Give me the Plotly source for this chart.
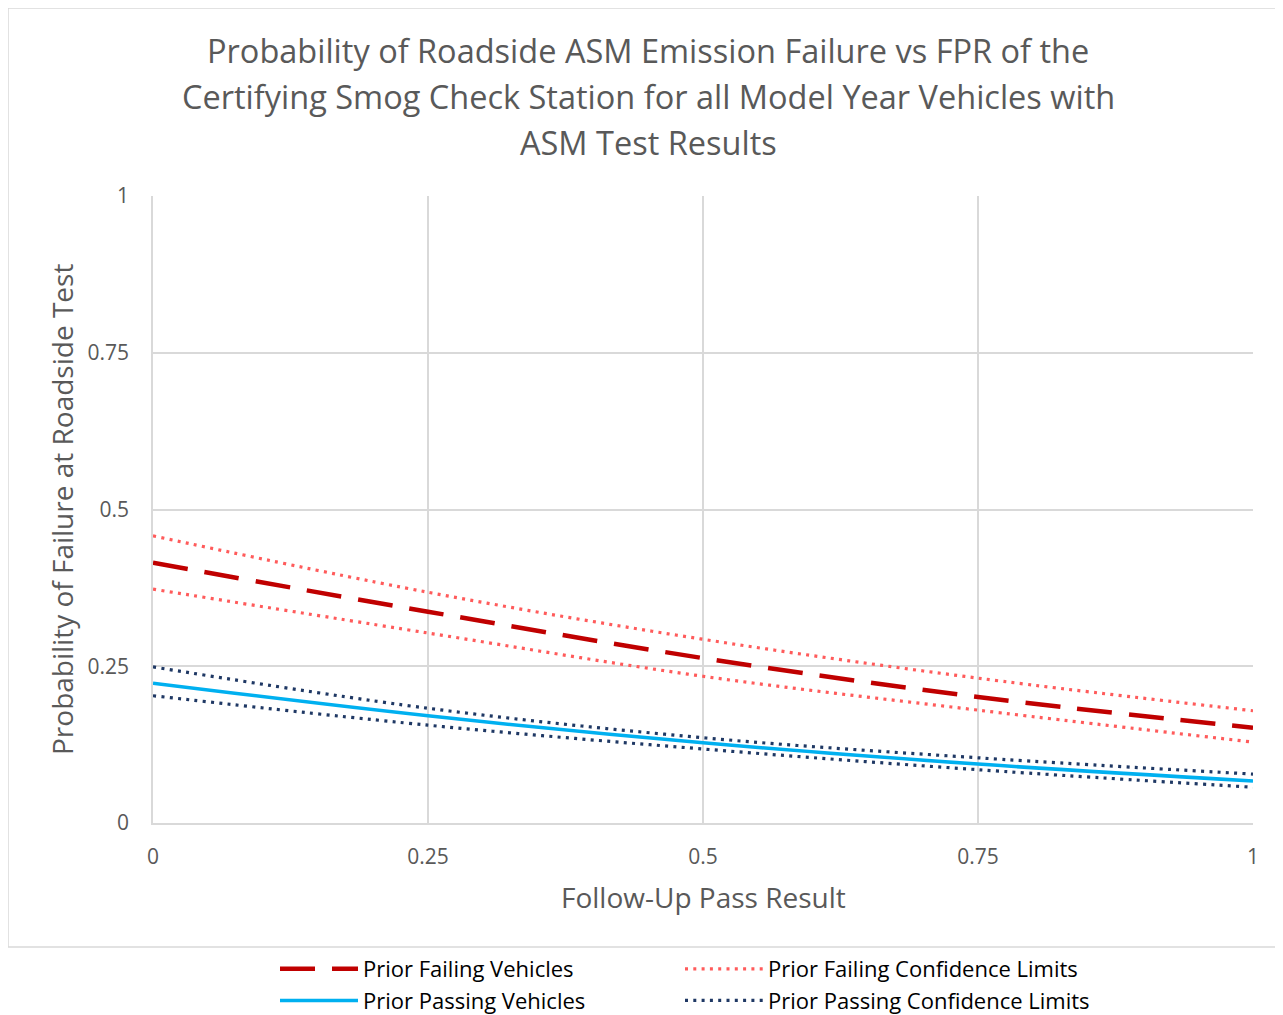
import plotly.graph_objects as go

x_vals = [0, 0.25, 0.5, 0.75, 1]
fail_mean = [0.415, 0.337, 0.263, 0.201, 0.152]
fail_upper = [0.458, 0.368, 0.293, 0.231, 0.179]
fail_lower = [0.373, 0.303, 0.234, 0.180, 0.129]
pass_mean = [0.223, 0.171, 0.128, 0.094, 0.067]
pass_upper = [0.249, 0.183, 0.136, 0.104, 0.078]
pass_lower = [0.203, 0.156, 0.118, 0.085, 0.057]

tick_vals = [0, 0.25, 0.5, 0.75, 1]
tick_text = ["0", "0.25", "0.5", "0.75", "1"]

title_lines = [
    "Probability of Roadside ASM Emission Failure vs FPR of the",
    "Certifying Smog Check Station for all Model Year Vehicles with",
    "ASM Test Results",
]

FONT = "Open Sans"
GRAY = "#595959"
OFF = 8  # page body margin

fig = go.Figure()
dot = "3px,5.3px"
fig.add_trace(go.Scatter(x=x_vals, y=fail_mean, mode="lines", name="Prior Failing Vehicles",
                         legend="legend",
                         line=dict(color="#C00000", width=4.5, dash="35px,17px", shape="spline")))
fig.add_trace(go.Scatter(x=x_vals, y=pass_mean, mode="lines", name="Prior Passing Vehicles",
                         legend="legend",
                         line=dict(color="#00B0F0", width=3.5, shape="spline")))
fig.add_trace(go.Scatter(x=x_vals, y=fail_upper, mode="lines", name="Prior Failing Confidence Limits",
                         legend="legend2", legendgroup="fcl",
                         line=dict(color="#FF5B5B", width=3.2, dash=dot, shape="spline")))
fig.add_trace(go.Scatter(x=x_vals, y=pass_upper, mode="lines", name="Prior Passing Confidence Limits",
                         legend="legend2", legendgroup="pcl",
                         line=dict(color="#1F3864", width=3.2, dash=dot, shape="spline")))
fig.add_trace(go.Scatter(x=x_vals, y=fail_lower, mode="lines", name="Prior Failing Confidence Limits",
                         legend="legend2", legendgroup="fcl", showlegend=False,
                         line=dict(color="#FF5B5B", width=3.2, dash=dot, shape="spline")))
fig.add_trace(go.Scatter(x=x_vals, y=pass_lower, mode="lines", name="Prior Passing Confidence Limits",
                         legend="legend2", legendgroup="pcl", showlegend=False,
                         line=dict(color="#1F3864", width=3.2, dash=dot, shape="spline")))

W, H = 1283 - OFF, 1015 - OFF
L, R, T, B = 153 - OFF, 1253 - OFF, 196 - OFF, 823 - OFF
pw, ph = R - L, B - T

def px_x(p):
    return (p - OFF - L) / pw

def px_y(p):
    return (B - (p - OFF)) / ph

leg_common = dict(orientation="v", xanchor="left", yanchor="top", tracegroupgap=0, itemwidth=78,
                  font=dict(size=22, color="#000000", family=FONT), bgcolor="rgba(0,0,0,0)",
                  traceorder="normal")

fig.update_layout(
    width=W, height=H,
    margin=dict(l=L, r=W - R, t=T, b=H - B, autoexpand=False),
    paper_bgcolor="white", plot_bgcolor="white",
    font=dict(family=FONT, color=GRAY, size=18),
    showlegend=True,
    legend=dict(x=px_x(275), y=px_y(948), **leg_common),
    legend2=dict(x=px_x(680), y=px_y(948), **leg_common),
    xaxis=dict(range=[0, 1], tickvals=tick_vals, ticktext=tick_text, showgrid=True,
               gridcolor="#D9D9D9", gridwidth=1.5, zeroline=False, showline=True, linecolor="#D9D9D9",
               linewidth=1.5, ticks="", ticklabelstandoff=14, tickfont=dict(size=21, color=GRAY)),
    yaxis=dict(range=[0, 1], tickvals=tick_vals, ticktext=tick_text, showgrid=True,
               gridcolor="#D9D9D9", gridwidth=1.5, zeroline=False, showline=True, linecolor="#D9D9D9",
               linewidth=1.5, ticks="", ticklabelstandoff=18, tickfont=dict(size=21, color=GRAY)),
)

annotations = []
for line, yc in zip(title_lines, [50, 97, 142]):
    annotations.append(dict(text=line, x=px_x(648), y=px_y(yc), xref="paper", yref="paper",
                            xanchor="center", yanchor="middle", showarrow=False,
                            font=dict(size=32.5, color=GRAY, family=FONT)))
annotations.append(dict(text="Follow-Up Pass Result", x=px_x(703), y=px_y(897), xref="paper", yref="paper",
                        xanchor="center", yanchor="middle", showarrow=False,
                        font=dict(size=28, color=GRAY, family=FONT)))
annotations.append(dict(text="Probability of Failure at Roadside Test", x=px_x(62), y=px_y(510),
                        xref="paper", yref="paper", xanchor="center", yanchor="middle", showarrow=False,
                        textangle=-90, font=dict(size=28, color=GRAY, family=FONT)))
fig.update_layout(annotations=annotations)

fig.add_shape(type="rect", xref="paper", yref="paper",
              x0=px_x(8), x1=px_x(1290), y0=px_y(947), y1=px_y(8),
              line=dict(color="#D9D9D9", width=1.5), fillcolor="rgba(0,0,0,0)", layer="below")

fig.write_html("out.html")
